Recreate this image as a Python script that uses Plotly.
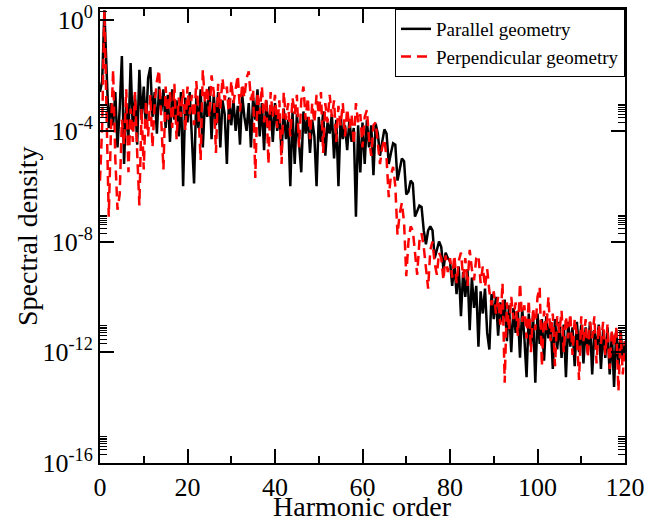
import plotly.graph_objects as go

# Harmonic order grid (step 0.5) and log10 spectral density
harmonic = [i * 0.5 for i in range(241)]

parallel_log10 = [
    -2.6, -2.2, 0.35, -2.0, -3.9, -3.0, -3.8, -2.6, -4.6, -3.2,
    -1.3, -5.2, -3.0, -4.2, -1.55, -4.0, -2.7, -4.5, -1.8, -3.6,
    -2.4, -3.9, -2.1, -1.7, -3.5, -2.6, -4.1, -2.4, -3.3, -2.5,
    -3.9, -2.7, -4.4, -2.5, -3.6, -2.9, -4.2, -2.6, -6.0, -2.8,
    -3.7, -2.6, -4.5, -5.9, -2.8, -3.9, -2.5, -4.6, -2.9, -3.5,
    -2.4, -4.3, -2.7, -3.8, -2.6, -4.6, -2.9, -3.4, -5.2, -2.8,
    -3.8, -2.9, -4.0, -3.1, -4.5, -2.7, -3.5, -4.0, -3.0, -4.6,
    -2.8, -3.6, -2.5, -4.2, -3.0, -4.7, -2.9, -3.9, -3.2, -4.4,
    -3.0, -4.0, -3.4, -4.8, -3.2, -4.3, -3.6, -6.0, -3.3, -5.2,
    -3.4, -4.3, -5.5, -3.3, -4.1, -3.5, -4.8, -3.6, -4.2, -6.0,
    -3.5, -4.4, -3.3, -4.9, -3.7, -4.1, -3.4, -5.0, -3.6, -6.0,
    -3.5, -4.3, -3.8, -4.7, -3.6, -4.4, -3.9, -7.1, -3.8, -5.5,
    -3.7, -5.2, -3.6, -4.6, -3.8, -5.6, -3.75, -4.1, -4.9, -4.4,
    -3.95, -4.1, -5.2, -4.8, -4.45, -4.5, -5.8, -5.4, -5.0, -5.1,
    -6.3, -6.2, -5.8, -5.9, -7.1, -6.9, -6.7, -6.75, -7.6, -8.1,
    -7.6, -7.45, -7.6, -8.6, -8.3, -8.0, -8.2, -9.0, -8.4, -8.6,
    -8.7, -9.6, -8.8, -9.9, -8.9, -10.7, -9.1, -10.0, -9.0, -11.2,
    -9.3, -10.4, -9.6, -11.8, -9.8, -10.6, -9.7, -11.3, -11.9, -9.9,
    -10.8, -10.0, -11.4, -10.2, -10.9, -10.1, -11.6, -10.3, -12.0, -10.4,
    -11.3, -10.5, -12.2, -10.4, -11.5, -12.9, -10.6, -11.8, -10.7, -13.1,
    -10.6, -11.7, -10.8, -12.3, -10.7, -11.5, -10.9, -12.6, -10.8, -11.9,
    -10.9, -12.2, -11.0, -12.9, -10.9, -11.8, -11.1, -12.5, -10.9, -12.0,
    -11.0, -12.4, -11.1, -12.0, -10.9, -12.8, -11.2, -11.9, -11.0, -12.6,
    -11.2, -12.2, -11.1, -12.8, -11.3, -13.25, -11.2, -12.5, -11.2, -12.3,
    -11.6,
]

perpendicular_log10 = [
    -5.8, -3.8, 0.35, -3.0, -7.1, -4.0, -1.8, -5.0, -6.85, -6.3,
    -3.6, -4.5, -2.5, -5.5, -3.2, -4.4, -2.6, -4.8, -6.7, -3.2,
    -5.4, -2.9, -4.2, -2.7, -4.6, -3.0, -2.2, -1.8, -3.9, -5.4,
    -2.4, -3.6, -2.6, -3.9, -2.3, -4.3, -2.8, -3.5, -2.5, -4.0,
    -2.4, -3.4, -2.7, -3.8, -2.2, -3.3, -5.05, -1.8, -3.0, -2.4,
    -3.5, -2.0, -2.6, -4.8, -2.3, -3.2, -2.1, -2.9, -2.4, -3.6,
    -2.2, -3.0, -2.5, -2.0, -3.3, -2.3, -2.8, -2.1, -1.85, -2.9,
    -2.5, -5.7, -2.6, -3.4, -2.4, -3.7, -2.8, -5.2, -2.6, -3.5,
    -2.7, -3.9, -2.9, -5.2, -2.6, -3.6, -3.0, -4.2, -2.8, -3.4,
    -2.7, -4.6, -2.9, -2.4, -3.6, -2.8, -4.3, -3.0, -3.7, -2.7,
    -3.4, -2.6, -4.8, -3.0, -3.7, -2.7, -3.5, -2.9, -4.4, -3.1,
    -3.8, -3.0, -4.2, -3.2, -3.9, -3.4, -4.5, -3.0, -3.7, -3.4,
    -4.6, -3.5, -3.25, -4.3, -4.9, -3.8, -3.7, -4.4, -5.2, -4.6,
    -4.3, -5.0, -6.4, -5.6, -5.3, -6.0, -7.75, -7.0, -6.6, -7.3,
    -9.25, -8.0, -7.45, -7.6, -8.5, -9.2, -8.0, -7.7, -8.2, -8.9,
    -9.7, -8.3, -8.0, -8.8, -9.2, -8.4, -8.6, -9.4, -8.5, -9.1,
    -8.6, -9.3, -8.5, -9.5, -8.7, -8.4, -9.3, -8.6, -9.6, -8.3,
    -9.0, -9.4, -8.6, -8.5, -9.5, -8.9, -9.65, -9.0, -9.8, -10.3,
    -9.8, -10.6, -10.0, -11.0, -9.5, -13.1, -10.2, -11.2, -10.0, -10.8,
    -10.2, -11.4, -9.5, -10.9, -10.3, -11.5, -10.1, -12.0, -10.4, -11.2,
    -10.0, -9.65, -12.5, -10.5, -11.2, -10.0, -11.6, -10.6, -12.5, -10.7,
    -11.3, -10.5, -12.0, -10.7, -11.5, -10.6, -12.1, -10.8, -11.4, -13.0,
    -10.7, -11.6, -10.8, -12.2, -10.9, -11.5, -10.7, -12.4, -11.0, -11.7,
    -10.9, -12.1, -11.0, -12.6, -11.2, -11.8, -11.1, -13.4, -11.3, -12.8,
    -11.6,
]

parallel = [10 ** v for v in parallel_log10]
perpendicular = [10 ** v for v in perpendicular_log10]

series_names = ["Parallel geometry", "Perpendicular geometry"]
x_ticks = [0, 20, 40, 60, 80, 100, 120]
y_exponents = [0, -4, -8, -12, -16]
y_tickvals = [10.0 ** e for e in y_exponents]
y_ticktext = [f"10<sup>{e}</sup>" for e in y_exponents]
y_minor = [m * 10.0 ** e for e in y_exponents for m in range(2, 10)]
x_title = "Harmonic order"
y_title = "Spectral density"

FONT = "Liberation Serif"

fig = go.Figure()
fig.add_trace(go.Scatter(
    x=harmonic, y=parallel, mode="lines", name=series_names[0],
    line=dict(color="black", width=2.5),
))
fig.add_trace(go.Scatter(
    x=harmonic, y=perpendicular, mode="lines", name=series_names[1],
    line=dict(color="#ff0000", width=2.5, dash="10px,6px"),
))

axis_common = dict(
    showline=True, linecolor="black", linewidth=2, mirror="ticks",
    ticks="inside", tickcolor="black", tickwidth=1.5, ticklen=14,
    showgrid=False, zeroline=False, automargin=False,
    tickfont=dict(family=FONT, size=26, color="black"),
)

fig.update_layout(
    width=648, height=524,
    margin=dict(l=100, r=23, t=9, b=61),
    paper_bgcolor="white", plot_bgcolor="white",
    font=dict(family=FONT, color="black"),
    showlegend=True,
    legend=dict(
        x=1, y=1, xanchor="right", yanchor="top",
        bgcolor="white", bordercolor="black", borderwidth=1,
        font=dict(family=FONT, size=19, color="black"),
        itemwidth=30, tracegroupgap=0,
    ),
    xaxis=dict(
        axis_common, range=[0, 120], tickvals=x_ticks,
        minor=dict(dtick=10, tick0=0, ticks="inside", ticklen=7,
                   tickcolor="black", tickwidth=1.5),
    ),
    yaxis=dict(
        axis_common, type="log", range=[-16, 0.4],
        tickvals=y_tickvals, ticktext=y_ticktext,
        minor=dict(tickmode="array", tickvals=y_minor, ticks="inside", ticklen=7,
                   tickcolor="black", tickwidth=1),
    ),
    annotations=[
        dict(text=x_title, xref="paper", yref="paper", x=0.5, y=0,
             xanchor="center", yanchor="middle", yshift=-43, showarrow=False,
             font=dict(family=FONT, size=28, color="black")),
        dict(text=y_title, xref="paper", yref="paper", x=0, y=0.5,
             xanchor="center", yanchor="middle", xshift=-73, textangle=-90,
             showarrow=False, font=dict(family=FONT, size=28, color="black")),
    ],
)

fig.write_html(
    "out.html",
    config={"displayModeBar": False},
    post_script="document.body.style.margin='0px';document.body.style.overflow='hidden';",
)
